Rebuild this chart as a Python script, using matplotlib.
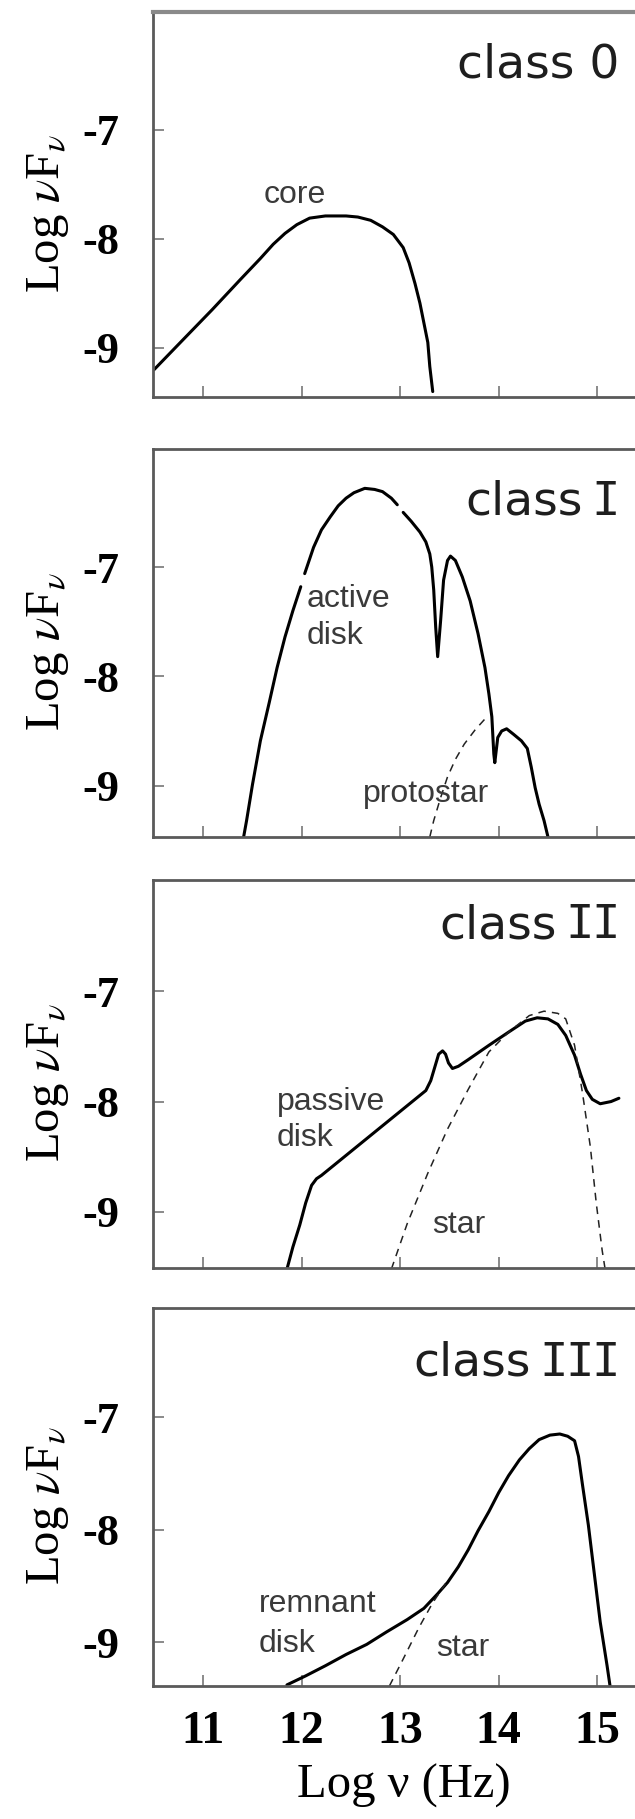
import numpy as np
import matplotlib
matplotlib.use("Agg")
import matplotlib.pyplot as plt

plt.rcParams['mathtext.fontset'] = 'stix'

## SED data, log nu vs log nu*F_nu ##
core_x = [10.50, 10.80, 11.09, 11.38, 11.58, 11.71, 11.83, 11.95, 12.08, 12.24, 12.45, 12.57,
          12.70, 12.82, 12.93, 13.03, 13.09, 13.15, 13.20, 13.24, 13.28, 13.30, 13.33]
core_y = [-9.20, -8.92, -8.65, -8.37, -8.18, -8.05, -7.95, -7.87, -7.81, -7.79, -7.79, -7.80,
          -7.83, -7.89, -7.96, -8.08, -8.22, -8.41, -8.59, -8.77, -8.95, -9.17, -9.40]

# nan entries are the small breaks in the active disk curve
active_x = [11.41, 11.44, 11.50, 11.58, 11.67, 11.75, 11.83, 11.91, 11.99, np.nan,
            12.03, 12.12, 12.20, 12.29, 12.37, 12.45, 12.53, 12.64, 12.74, 12.82, 12.91, 12.97, np.nan,
            13.03, 13.11, 13.20, 13.26, 13.30, 13.32, 13.34, 13.36, 13.38, 13.41, 13.44, 13.48,
            13.51, 13.56, 13.63, 13.71, 13.79, 13.86, 13.90, 13.93, 13.95, 13.96, 13.99, 14.03,
            14.08, 14.15, 14.23, 14.29, 14.33, 14.37, 14.41, 14.46, 14.50]
active_y = [-9.47, -9.32, -8.99, -8.59, -8.24, -7.92, -7.64, -7.40, -7.18, np.nan,
            -7.06, -6.82, -6.66, -6.54, -6.44, -6.37, -6.32, -6.28, -6.29, -6.31, -6.37, -6.43, np.nan,
            -6.50, -6.58, -6.68, -6.77, -6.88, -7.00, -7.21, -7.55, -7.82, -7.49, -7.12, -6.94,
            -6.90, -6.94, -7.09, -7.31, -7.61, -7.92, -8.16, -8.37, -8.71, -8.79, -8.56, -8.50,
            -8.48, -8.53, -8.59, -8.66, -8.83, -9.02, -9.17, -9.32, -9.47]
proto_x = [13.30, 13.34, 13.41, 13.48, 13.56, 13.65, 13.76, 13.88]
proto_y = [-9.47, -9.32, -9.11, -8.92, -8.76, -8.62, -8.49, -8.37]

passive_x = [11.85, 11.91, 11.98, 12.04, 12.10, 12.15, 12.20, 13.26, 13.31, 13.35, 13.39, 13.43,
             13.46, 13.49, 13.53, 13.59, 13.69, 13.90, 14.10, 14.27, 14.39, 14.50, 14.60, 14.68,
             14.77, 14.83, 14.89, 14.95, 15.03, 15.14, 15.22]
passive_y = [-9.52, -9.32, -9.12, -8.92, -8.76, -8.70, -8.67, -7.90, -7.81, -7.69, -7.57, -7.54,
             -7.57, -7.65, -7.70, -7.68, -7.62, -7.49, -7.37, -7.27, -7.24, -7.25, -7.30, -7.40,
             -7.58, -7.75, -7.90, -7.98, -8.02, -8.00, -7.97]
star2_x = [12.91, 13.07, 13.28, 13.48, 13.69, 13.90, 14.10, 14.31, 14.46, 14.60, 14.68, 14.77,
           14.85, 14.93, 14.99, 15.05, 15.08]
star2_y = [-9.52, -9.11, -8.65, -8.25, -7.89, -7.55, -7.37, -7.22, -7.18, -7.20, -7.25, -7.49,
           -7.92, -8.41, -8.92, -9.35, -9.52]

remnant_x = [11.85, 12.04, 12.24, 12.45, 12.66, 12.86, 13.07, 13.24, 13.38, 13.48, 13.59, 13.69,
             13.79, 13.90, 14.00, 14.10, 14.21, 14.31, 14.41, 14.52, 14.62, 14.70, 14.77, 14.81,
             14.85, 14.91, 14.97, 15.03, 15.10, 15.13]
remnant_y = [-9.38, -9.30, -9.21, -9.11, -9.02, -8.91, -8.80, -8.70, -8.57, -8.47, -8.33, -8.18,
             -8.01, -7.84, -7.67, -7.52, -7.38, -7.28, -7.20, -7.16, -7.15, -7.17, -7.21, -7.35,
             -7.60, -7.96, -8.39, -8.82, -9.21, -9.39]
star3_x = [12.89, 13.03, 13.19, 13.33, 13.46]
star3_y = [-9.39, -9.15, -8.87, -8.65, -8.48]

class_numerals = ["0", "I", "II", "III"]
xticks = [11, 12, 13, 14, 15]
yticks = [-9, -8, -7]
ytick_labels = ["-9", "-8", "-7"]

# text labels per panel: (x, y, text, ha)
panel_notes = [
    [(11.93, -7.60, "core", "center")],
    [(12.05, -7.29, "active", "left"), (12.05, -7.63, "disk", "left"),
     (12.62, -9.08, "protostar", "left")],
    [(11.75, -8.00, "passive", "left"), (11.75, -8.33, "disk", "left"),
     (13.32, -9.12, "star", "left")],
    [(11.56, -8.66, "remnant", "left"), (11.56, -9.02, "disk", "left"),
     (13.36, -9.05, "star", "left")],
]

solid = [(core_x, core_y), (active_x, active_y), (passive_x, passive_y), (remnant_x, remnant_y)]
dashed = [None, (proto_x, proto_y), (star2_x, star2_y), (star3_x, star3_y)]

# panel frames in pixels: (top, bottom, ymin, ymax)
W, H = 635, 1819
frames = [(12, 397, -9.45, -5.92),
          (449, 837, -9.47, -5.92),
          (880, 1268, -9.51, -5.99),
          (1308, 1686, -9.39, -6.03)]
left_px = 153
xmin = 10.49
unit_x = 98.5
right_px = W + 20
xmax = xmin + (right_px - left_px) / unit_x

fig = plt.figure(figsize=(W / 100, H / 100), dpi=100)


def class_label(ax, x, y, numeral, size):
    # "class" in a plain sans, roman numerals with slab serifs
    if numeral == "0":
        ax.text(x, y, "class 0", ha="right", va="baseline", fontsize=size,
                color="#1e1e1e", family="DejaVu Sans")
        return
    step = 0.55 * size
    n = len(numeral)
    for i in range(n):
        ax.annotate("I", (x, y), xytext=(-(n - i - 0.5) * step, 0), textcoords="offset points",
                    ha="center", va="baseline", fontsize=size, color="#1e1e1e",
                    family="DejaVu Sans Mono")
    ax.annotate("class", (x, y), xytext=(-(n * step + 0.22 * size), 0), textcoords="offset points",
                ha="right", va="baseline", fontsize=size, color="#1e1e1e", family="DejaVu Sans")


spine_col = "#5a5a5a"
for k, (top, bot, ymin, ymax) in enumerate(frames):
    ax = fig.add_axes([left_px / W, 1 - bot / H, (right_px - left_px) / W, (bot - top) / H])
    ax.set_xlim(xmin, xmax)
    ax.set_ylim(ymin, ymax)

    sx, sy = solid[k]
    ax.plot(sx, sy, color="black", lw=2.2, solid_capstyle="round", solid_joinstyle="round")
    if dashed[k] is not None:
        dx, dy = dashed[k]
        ax.plot(dx, dy, color="#222222", lw=1.1, dashes=(5, 4))

    for x, y, s, ha in panel_notes[k]:
        ax.text(x, y, s, ha=ha, va="center", fontsize=23, color="#3a3a3a",
                family="Liberation Sans")

    class_label(ax, 15.22, -6.52 if k < 3 else -6.63, class_numerals[k], 34)

    for side in ["left", "bottom", "top", "right"]:
        ax.spines[side].set_color(spine_col)
        ax.spines[side].set_linewidth(2.0)
    if k == 0:
        ax.spines["top"].set_linewidth(3.0)
        ax.spines["top"].set_color("#8a8a8a")

    ax.set_xticks(xticks)
    ax.set_yticks(yticks)
    ax.set_yticklabels(ytick_labels, fontsize=32, fontweight="bold", family="Liberation Serif")
    ax.tick_params(axis="both", direction="in", length=8, width=1.2, color="#777777")
    ax.tick_params(axis="y", pad=24)
    if k == 3:
        ax.set_xticklabels([str(t) for t in xticks], fontsize=33, fontweight="bold",
                           family="Liberation Serif")
        ax.tick_params(axis="x", pad=18)
        ax.set_xlabel("Log ν (Hz)", fontsize=35, family="Liberation Serif", labelpad=8)
    else:
        ax.set_xticklabels([])

    fig.text(48 / W, 1 - ((top + bot) / 2 + 9) / H, r"Log $\nu$F$_\nu$", rotation=90,
             ha="center", va="center", fontsize=35, family="Liberation Serif")

fig.savefig("out.png", dpi=100)
